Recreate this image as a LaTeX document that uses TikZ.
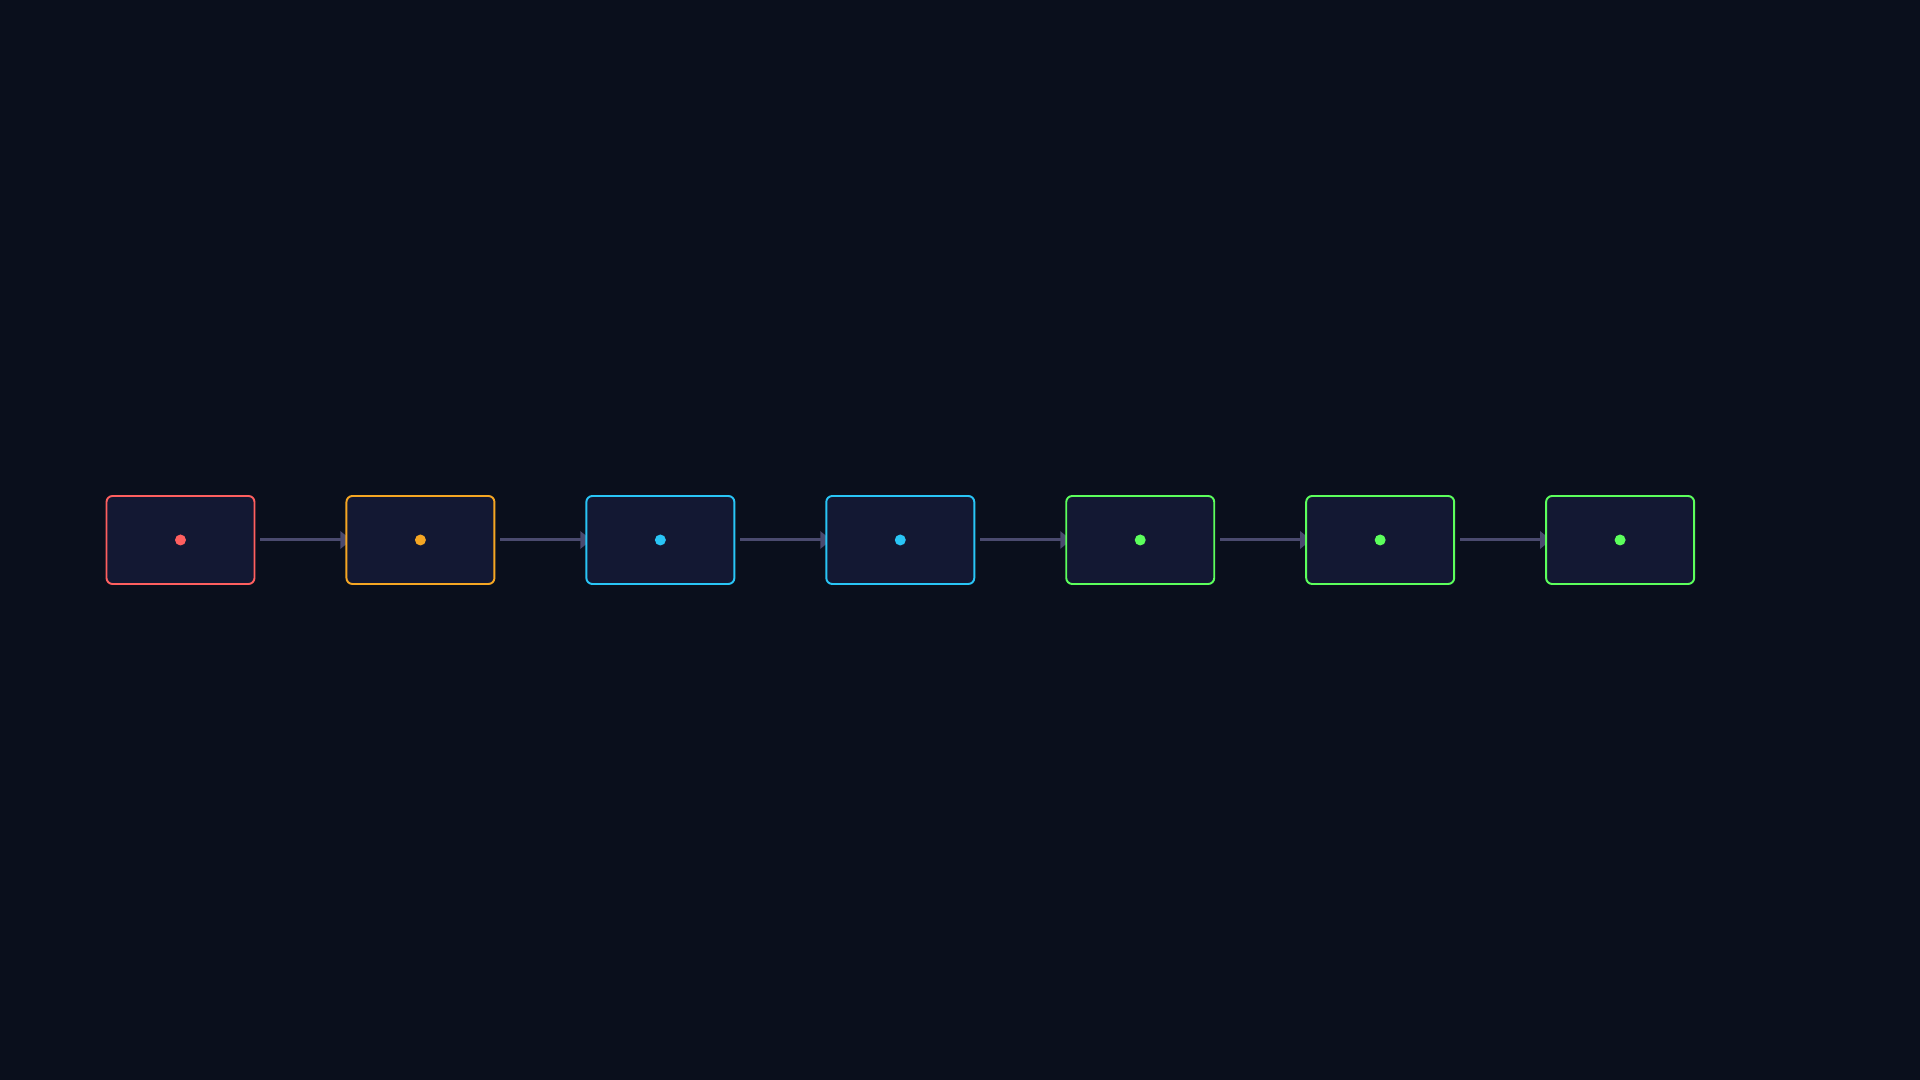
\documentclass[tikz,border=0pt]{standalone}
\usetikzlibrary{positioning,arrows.meta,backgrounds}
\definecolor{bgdark}{HTML}{0A0F1C}
\definecolor{boxfill}{HTML}{131833}
\definecolor{linkgrey}{HTML}{4A4A6E}
\definecolor{redc}{HTML}{FF5F5F}
\definecolor{orangec}{HTML}{F5A623}
\definecolor{cyanc}{HTML}{29C5F6}
\definecolor{greenc}{HTML}{5CFF5C}
\begin{document}
\begin{tikzpicture}[node distance={9mm}, x=1mm, y=1mm,
  stage/.style = {draw, fill=boxfill, line width=0.55pt, rounded corners=0.6mm,
    minimum width=14.8mm, minimum height=8.8mm, inner sep=0pt},
  link/.style = {linkgrey, line width=0.85pt, shorten <=0.5mm, shorten >=-0.6mm,
    -{Triangle[width=1.7mm,length=1.1mm]}}]
\useasboundingbox (0,0) rectangle (192,108);
\node[stage, draw=redc] (1) at (18.05,54) {};
\node[stage, draw=orangec] (2) [right=of 1] {};
\node[stage, draw=cyanc] (3) [right=of 2] {};
\node[stage, draw=cyanc] (4) [right=of 3] {};
\node[stage, draw=greenc] (5) [right=of 4] {};
\node[stage, draw=greenc] (6) [right=of 5] {};
\node[stage, draw=greenc] (7) [right=of 6] {};
% dots
\fill[redc] (1.center) circle (0.55);
\fill[orangec] (2.center) circle (0.55);
\fill[cyanc] (3.center) circle (0.55);
\fill[cyanc] (4.center) circle (0.55);
\fill[greenc] (5.center) circle (0.55);
\fill[greenc] (6.center) circle (0.55);
\fill[greenc] (7.center) circle (0.55);
\begin{scope}[on background layer]
\fill[bgdark] (0,0) rectangle (192,108);
\draw[link] (1) -- (2);
\draw[link] (2) -- (3);
\draw[link] (3) -- (4);
\draw[link] (4) -- (5);
\draw[link] (5) -- (6);
\draw[link] (6) -- (7);
\end{scope}
\end{tikzpicture}
\end{document}
